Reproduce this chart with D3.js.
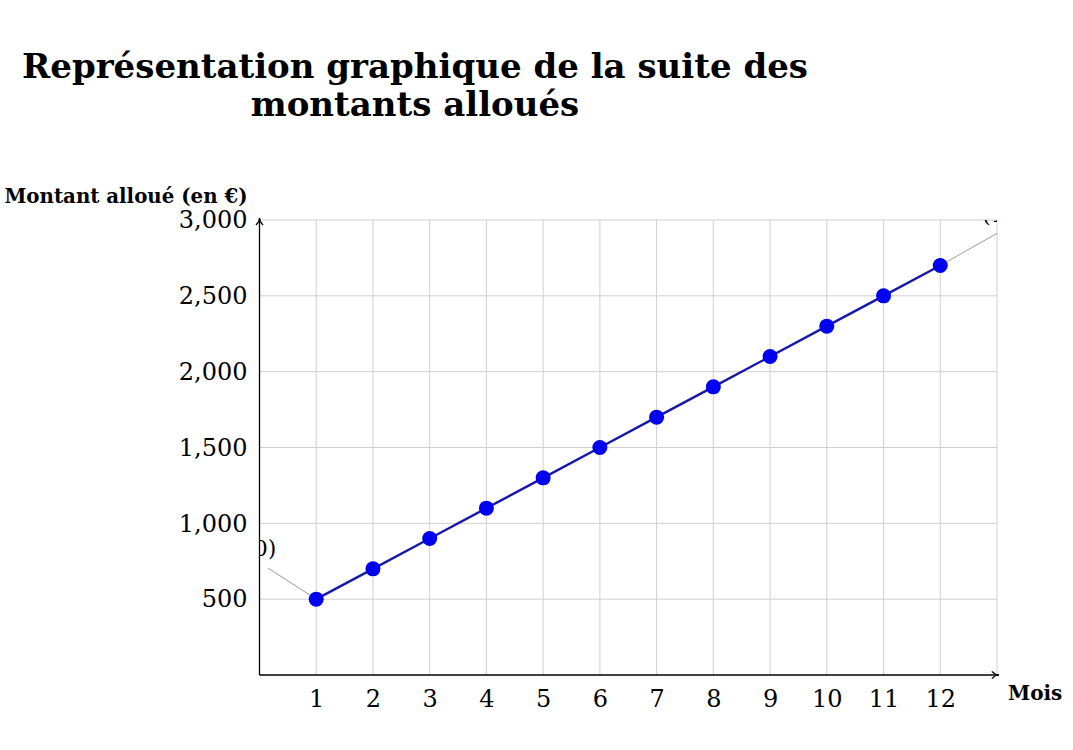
<!DOCTYPE html>
<html>
<head>
<meta charset="utf-8">
<script src="https://cdn.jsdelivr.net/npm/d3@7"></script>
<style>
  body { margin: 0; background: #fff; }
  text { font-family: "DejaVu Serif", "Liberation Serif", serif; }
</style>
</head>
<body>
<svg width="1073" height="750"></svg>
<script>
// Données : mois et montants alloués
const mois = [1, 2, 3, 4, 5, 6, 7, 8, 9, 10, 11, 12];
const montants = [500, 700, 900, 1100, 1300, 1500, 1700, 1900, 2100, 2300, 2500, 2700];
const yTicks = [500, 1000, 1500, 2000, 2500, 3000];
const titre = ["Représentation graphique de la suite des", "montants alloués"];
const etiquettes = ["(1, 500)", "(12, 2700)"];

const svg = d3.select("svg");

// Zone du graphique
const gauche = 259.5, droite = 997, haut = 220, bas = 675;
const police = "Liberation Serif, serif";

const x = d3.scaleLinear().domain([0, 13]).range([gauche, droite]);
const y = d3.scaleLinear().domain([0, 3000]).range([bas, haut]);

// Titre
svg.append("text")
  .attr("text-anchor", "middle")
  .attr("font-weight", "bold")
  .attr("font-size", 34)
  .selectAll("tspan")
  .data(titre)
  .enter().append("tspan")
  .attr("x", 415)
  .attr("y", (d, i) => 78 + i * 38)
  .text(d => d);

// Grille
const grid = svg.append("g").attr("stroke", "#cfcfcf").attr("stroke-width", 1);
grid.selectAll(".vg")
  .data(mois.concat([13]))
  .enter().append("line")
  .attr("x1", d => x(d)).attr("x2", d => x(d))
  .attr("y1", haut).attr("y2", bas);
grid.selectAll(".hg")
  .data(yTicks)
  .enter().append("line")
  .attr("x1", gauche).attr("x2", droite)
  .attr("y1", d => y(d)).attr("y2", d => y(d));

// Zone de découpe pour les étiquettes
svg.append("clipPath").attr("id", "plot")
  .append("rect")
  .attr("x", gauche).attr("y", haut)
  .attr("width", droite - gauche).attr("height", bas - haut);

const notes = svg.append("g").attr("clip-path", "url(#plot)");
const n = mois.length;
// Etiquette du premier point
notes.append("line")
  .attr("x1", x(mois[0])).attr("y1", y(montants[0]))
  .attr("x2", x(mois[0]) - 48).attr("y2", y(montants[0]) - 31)
  .attr("stroke", "#999").attr("stroke-width", 1);
notes.append("text")
  .attr("x", x(mois[0]) - 40).attr("y", y(montants[0]) - 43)
  .attr("text-anchor", "end")
  .attr("font-family", police)
  .attr("font-size", 22)
  .text(etiquettes[0]);
// Etiquette du dernier point
notes.append("line")
  .attr("x1", x(mois[n - 1])).attr("y1", y(montants[n - 1]))
  .attr("x2", x(mois[n - 1]) + 60).attr("y2", y(montants[n - 1]) - 34)
  .attr("stroke", "#999").attr("stroke-width", 1);
notes.append("text")
  .attr("x", x(mois[n - 1]) + 42).attr("y", y(montants[n - 1]) - 44)
  .attr("font-family", police)
  .attr("font-size", 22)
  .text(etiquettes[1]);

// Axes avec flèches
svg.append("defs").append("marker")
  .attr("id", "fleche")
  .attr("viewBox", "0 0 10 10")
  .attr("refX", 9).attr("refY", 5)
  .attr("markerWidth", 9).attr("markerHeight", 9)
  .attr("markerUnits", "userSpaceOnUse")
  .attr("orient", "auto")
  .append("path")
  .attr("d", "M1,1 Q5,5 9,5 Q5,5 1,9")
  .attr("fill", "none")
  .attr("stroke", "#000").attr("stroke-width", 1.3);

svg.append("line")
  .attr("x1", gauche).attr("y1", bas)
  .attr("x2", droite + 2).attr("y2", bas)
  .attr("stroke", "#000").attr("stroke-width", 1.3)
  .attr("marker-end", "url(#fleche)");
svg.append("line")
  .attr("x1", gauche).attr("y1", bas)
  .attr("x2", gauche).attr("y2", haut - 2)
  .attr("stroke", "#000").attr("stroke-width", 1.3)
  .attr("marker-end", "url(#fleche)");

// Graduations
const xAxis = d3.axisBottom(x).tickValues(mois).tickSize(0).tickPadding(15);
svg.append("g")
  .attr("transform", `translate(0,${bas})`)
  .call(xAxis)
  .call(g => g.select(".domain").remove())
  .call(g => g.selectAll("text")
    .attr("font-family", police)
    .attr("font-size", 24).attr("fill", "#000"));

const yAxis = d3.axisLeft(y).tickValues(yTicks).tickSize(0).tickPadding(12)
  .tickFormat(d3.format(","));
svg.append("g")
  .attr("transform", `translate(${gauche},0)`)
  .call(yAxis)
  .call(g => g.select(".domain").remove())
  .call(g => g.selectAll("text")
    .attr("font-family", police)
    .attr("font-size", 24).attr("fill", "#000"));

// Titres des axes
svg.append("text")
  .attr("x", 126).attr("y", 203)
  .attr("text-anchor", "middle")
  .attr("font-weight", "bold").attr("font-size", 19.8)
  .text("Montant alloué (en €)");
svg.append("text")
  .attr("x", 1008).attr("y", 700)
  .attr("font-weight", "bold").attr("font-size", 20)
  .text("Mois");

// Courbe et points
const data = mois.map((m, i) => ({ mois: m, montant: montants[i] }));
svg.append("path")
  .datum(data)
  .attr("fill", "none")
  .attr("stroke", "#1818a8")
  .attr("stroke-width", 2.4)
  .attr("d", d3.line().x(d => x(d.mois)).y(d => y(d.montant)));

svg.append("g")
  .selectAll("circle")
  .data(data)
  .enter().append("circle")
  .attr("cx", d => x(d.mois))
  .attr("cy", d => y(d.montant))
  .attr("r", 7.5)
  .attr("fill", "#0000f0");
</script>
</body>
</html>
